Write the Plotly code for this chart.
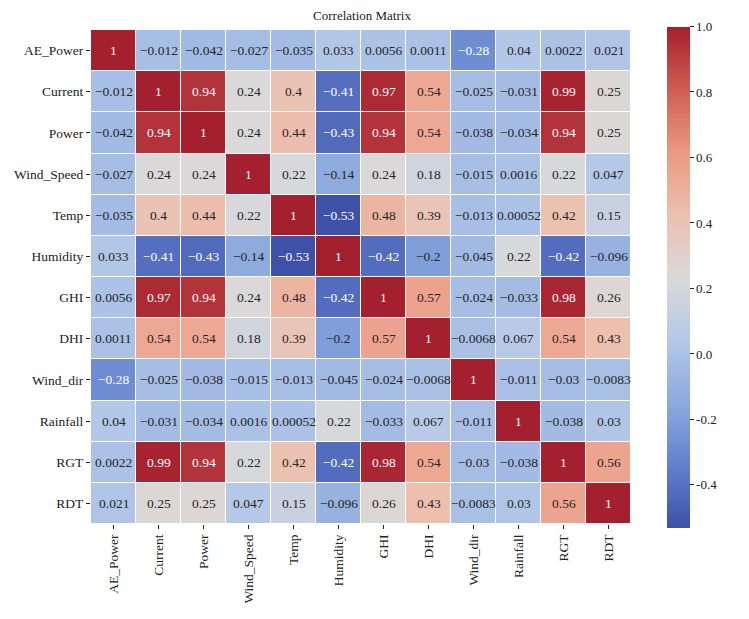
import plotly.graph_objects as go

labels = ["AE_Power", "Current", "Power", "Wind_Speed", "Temp", "Humidity",
          "GHI", "DHI", "Wind_dir", "Rainfall", "RGT", "RDT"]

corr = [
    [1, -0.012, -0.042, -0.027, -0.035, 0.033, 0.0056, 0.0011, -0.28, 0.04, 0.0022, 0.021],
    [-0.012, 1, 0.94, 0.24, 0.4, -0.41, 0.97, 0.54, -0.025, -0.031, 0.99, 0.25],
    [-0.042, 0.94, 1, 0.24, 0.44, -0.43, 0.94, 0.54, -0.038, -0.034, 0.94, 0.25],
    [-0.027, 0.24, 0.24, 1, 0.22, -0.14, 0.24, 0.18, -0.015, 0.0016, 0.22, 0.047],
    [-0.035, 0.4, 0.44, 0.22, 1, -0.53, 0.48, 0.39, -0.013, 0.00052, 0.42, 0.15],
    [0.033, -0.41, -0.43, -0.14, -0.53, 1, -0.42, -0.2, -0.045, 0.22, -0.42, -0.096],
    [0.0056, 0.97, 0.94, 0.24, 0.48, -0.42, 1, 0.57, -0.024, -0.033, 0.98, 0.26],
    [0.0011, 0.54, 0.54, 0.18, 0.39, -0.2, 0.57, 1, -0.0068, 0.067, 0.54, 0.43],
    [-0.28, -0.025, -0.038, -0.015, -0.013, -0.045, -0.024, -0.0068, 1, -0.011, -0.03, -0.0083],
    [0.04, -0.031, -0.034, 0.0016, 0.00052, 0.22, -0.033, 0.067, -0.011, 1, -0.038, 0.03],
    [0.0022, 0.99, 0.94, 0.22, 0.42, -0.42, 0.98, 0.54, -0.03, -0.038, 1, 0.56],
    [0.021, 0.25, 0.25, 0.047, 0.15, -0.096, 0.26, 0.43, -0.0083, 0.03, 0.56, 1],
]

cbar_vals = [-0.4, -0.2, 0.0, 0.2, 0.4, 0.6, 0.8, 1.0]
cbar_text = ["-0.4", "-0.2", "0.0", "0.2", "0.4", "0.6", "0.8", "1.0"]

coolwarm_muted = [
    [0.0, "rgb(62,81,166)"],
    [0.125, "rgb(98,128,206)"],
    [0.25, "rgb(140,170,222)"],
    [0.375, "rgb(180,200,232)"],
    [0.5, "rgb(218,217,217)"],
    [0.625, "rgb(236,192,175)"],
    [0.75, "rgb(236,152,128)"],
    [0.875, "rgb(208,94,82)"],
    [1.0, "rgb(165,32,46)"],
]

zmin, zmax = -0.53, 1.0
FONT = "Liberation Serif"


def fmt(v):
    if v == 1:
        return "1"
    s = "%.2g" % v
    if "e" in s:
        s = ("%.5f" % v).rstrip("0")
    return s.replace("-", "\u2212")


fig = go.Figure(go.Heatmap(
    z=corr, x=labels, y=labels,
    colorscale=coolwarm_muted, zmin=zmin, zmax=zmax,
    xgap=1, ygap=1,
    colorbar=dict(
        x=1.063, xanchor="left", y=0.5, yanchor="middle",
        xpad=0, ypad=0,
        thickness=23, thicknessmode="pixels",
        len=501, lenmode="pixels",
        outlinewidth=0,
        tickvals=cbar_vals, ticktext=cbar_text,
        ticks="outside", ticklen=4, tickcolor="#222",
        tickfont=dict(family=FONT, size=13, color="#222"),
    ),
))

annotations = []
for i, row in enumerate(corr):
    for j, v in enumerate(row):
        norm = (v - zmin) / (zmax - zmin)
        white = norm > 0.85 or norm < 0.2
        annotations.append(dict(
            x=labels[j], y=labels[i], xref="x", yref="y",
            text=fmt(v), showarrow=False,
            font=dict(family=FONT, size=13.5, color="white" if white else "#262626"),
        ))

fig.update_layout(
    width=749, height=619,
    margin=dict(l=91, r=116, t=30, b=95, autoexpand=False),
    paper_bgcolor="white", plot_bgcolor="white",
    title=dict(text="Correlation Matrix", x=(91 + 633) / 2 / 749, xanchor="center",
               xref="container", yref="container",
               y=1 - 15 / 619, yanchor="middle",
               font=dict(family=FONT, size=13, color="#222")),
    annotations=annotations,
    font=dict(family=FONT, size=13, color="#222"),
)
fig.update_xaxes(tickangle=-90, ticks="outside", ticklen=4, tickcolor="#222",
                 showgrid=False, zeroline=False, automargin=False,
                 tickfont=dict(family=FONT, size=13.5, color="#222"))
fig.update_yaxes(autorange="reversed", ticks="outside", ticklen=4, tickcolor="#222",
                 showgrid=False, zeroline=False, automargin=False,
                 tickfont=dict(family=FONT, size=13.5, color="#222"))

fig.write_html("out.html", config={"displayModeBar": False},
               post_script="document.body.style.margin='0';")
